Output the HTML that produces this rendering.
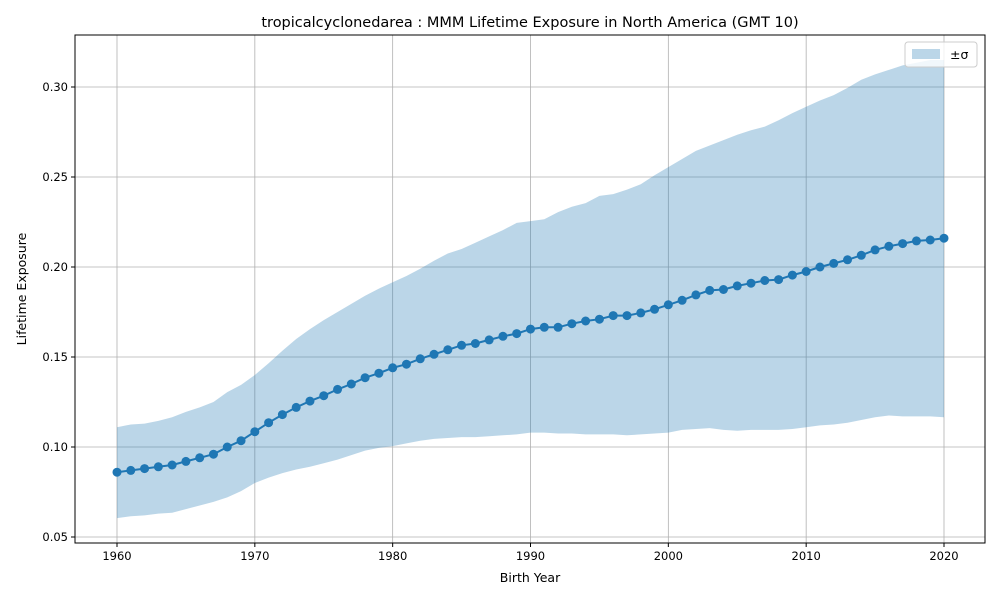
<!DOCTYPE html>
<html><head><meta charset="utf-8"><style>
body{margin:0;background:#fff;font-family:"Liberation Sans","DejaVu Sans",sans-serif}
svg text{font-family:"DejaVu Sans","Liberation Sans",sans-serif;fill:#000}
</style></head><body>
<svg id="chart" width="1000" height="600" xmlns="http://www.w3.org/2000/svg">
<rect width="1000" height="600" fill="#fff"/>
<g id="grid"></g><g id="band"></g><g id="line"></g><g id="axes"></g>
<text x="530" y="27" text-anchor="middle" font-size="14.5">tropicalcyclonedarea : MMM Lifetime Exposure in North America (GMT 10)</text>
<text x="530" y="582" text-anchor="middle" font-size="12.5">Birth Year</text>
<text x="26" y="289" text-anchor="middle" font-size="12.5" transform="rotate(-90 26 289)">Lifetime Exposure</text>
<g>
<rect x="905" y="42" width="72" height="25" rx="3" fill="#fff" fill-opacity="0.8" stroke="#ccc"/>
<rect x="912" y="49" width="28" height="10" fill="#1f77b4" fill-opacity="0.3"/>
<text x="950" y="59" font-size="12.5">±σ</text>
</g>
</svg>
<script>
const years=[];for(let y=1960;y<=2020;y++)years.push(y);
const meanVals=[.086,.087,.088,.089,.090,.092,.094,.096,.100,.1035,.1085,.1135,.118,.122,.1255,.1285,.132,.135,.1385,.141,.144,.146,.149,.1515,.154,.1565,.1575,.1595,.1615,.163,.1655,.1665,.1665,.1685,.170,.171,.173,.173,.1745,.1765,.179,.1815,.1845,.187,.1875,.1895,.191,.1925,.193,.1955,.1975,.200,.202,.204,.2065,.2095,.2115,.213,.2145,.215,.216];
const upperVals=[.111,.1125,.113,.1145,.1165,.1195,.122,.125,.1305,.1345,.140,.1465,.1535,.160,.1655,.1705,.175,.1795,.184,.188,.1915,.195,.199,.2035,.2075,.210,.2135,.217,.2205,.2245,.2255,.2265,.2305,.2335,.2355,.2395,.2405,.243,.246,.251,.2555,.260,.2645,.2675,.2705,.2735,.276,.278,.2815,.2855,.289,.2925,.2955,.2995,.304,.307,.3095,.312,.3135,.315,.315];
const lowerVals=[.0605,.0615,.062,.063,.0635,.0655,.0675,.0695,.072,.0755,.080,.083,.0855,.0875,.089,.091,.093,.0955,.098,.0995,.1005,.102,.1035,.1045,.105,.1055,.1055,.106,.1065,.107,.108,.108,.1075,.1075,.107,.107,.107,.1065,.107,.1075,.108,.1095,.110,.1105,.1095,.109,.1095,.1095,.1095,.110,.111,.112,.1125,.1135,.115,.1165,.1175,.117,.117,.117,.1165];
const xTicks=[1960,1970,1980,1990,2000,2010,2020];
const yTicks=[0.05,0.10,0.15,0.20,0.25,0.30];
const L=75,R=985,T=35,B=543;
const X=v=>117+(v-1960)*(944-117)/60;
const Y=v=>537-(v-0.05)*1800;
const NS='http://www.w3.org/2000/svg';
function mk(tag,attrs,parent){const e=document.createElementNS(NS,tag);for(const k in attrs)e.setAttribute(k,attrs[k]);parent.appendChild(e);return e;}
const grid=document.getElementById('grid'),axes=document.getElementById('axes');
xTicks.forEach(t=>{const g=mk('line',{x1:X(t),x2:X(t),y1:T,y2:B,stroke:'#b0b0b0','stroke-width':0.8},grid);


mk('line',{x1:X(t),x2:X(t),y1:B,y2:B+4,stroke:'#000'},axes);
const tx=mk('text',{x:X(t),y:B+17,'text-anchor':'middle','font-size':11.5},axes);tx.textContent=t;

});
yTicks.forEach(t=>{const g=mk('line',{x1:L,x2:R,y1:Y(t),y2:Y(t),stroke:'#b0b0b0','stroke-width':0.8},grid);


mk('line',{x1:L-4,x2:L,y1:Y(t),y2:Y(t),stroke:'#000'},axes);
const tx=mk('text',{x:L-7,y:Y(t)+4,'text-anchor':'end','font-size':11.5},axes);tx.textContent=t.toFixed(2);

});
const fr=mk('rect',{x:L,y:T,width:R-L,height:B-T,fill:'none',stroke:'#000','stroke-width':1},axes);


let d=years.map((y,i)=>(i?'L':'M')+X(y)+','+Y(upperVals[i])).join('');
for(let i=years.length-1;i>=0;i--)d+='L'+X(years[i])+','+Y(lowerVals[i]);
const band=mk('path',{d:d+'Z',fill:'#1f77b4','fill-opacity':0.3},document.getElementById('band'));


const lg=document.getElementById('line');
const pl=mk('polyline',{points:years.map((y,i)=>X(y)+','+Y(meanVals[i])).join(' '),fill:'none',stroke:'#1f77b4','stroke-width':2},lg);


years.forEach((y,i)=>{const c=mk('circle',{cx:X(y),cy:Y(meanVals[i]),r:4.5,fill:'#1f77b4'},lg);

});
</script>
</body></html>
